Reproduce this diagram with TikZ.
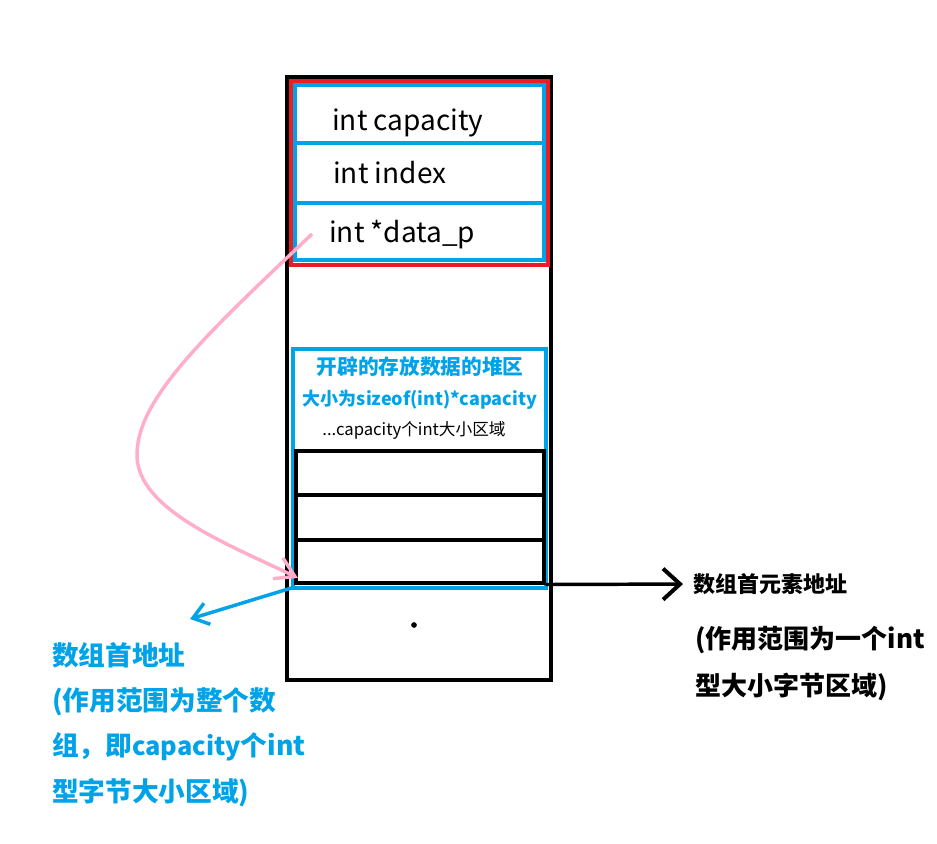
\documentclass[tikz,border=0pt]{standalone}
\usepackage{fontspec}
\setmainfont{Noto Sans CJK SC}
\usetikzlibrary{arrows.meta}

\definecolor{paintblue}{RGB}{0,162,232}
\definecolor{paintred}{RGB}{237,28,36}
\definecolor{paintpink}{RGB}{255,174,201}
\newlength\px
\setlength\px{0.75pt}

\tikzset{
	frame/.style={draw=black,line width=4\px},
	field/.style={draw=paintblue,line width=4\px,inner sep=0,minimum width=248.5\px},
	slot/.style={draw=black,line width=4\px,inner sep=0,minimum width=247.5\px},
	fieldtext/.style={anchor=base west,inner sep=0,font=\fontsize{21}{24}\selectfont},
	heaptext/.style={inner sep=0,text=paintblue,font=\bfseries\fontsize{15.5}{18}\selectfont},
	note/.style={anchor=west,inner sep=0,align=left,font=\bfseries\fontsize{16.5}{35}\selectfont},
	bluenote/.style={anchor=north west,inner sep=0,align=left,text=paintblue,font=\bfseries\fontsize{20}{34}\selectfont},
}

\begin{document}
\begin{tikzpicture}[x=0.75pt,y=-0.75pt]
	\useasboundingbox (0,0) rectangle (937,843);
	% stack frame of the struct
	\draw[frame] (287,77) rectangle (551,679.5);
	\draw[draw=paintred,line width=4\px] (291,81) rectangle (548,264.5);
	\node[field,minimum height=58\px] (capRow) at (419.25,114) {};
	\node[field,minimum height=59.5\px] (idxRow) at (419.25,172.75) {};
	\node[field,minimum height=57\px] (ptrRow) at (419.25,231) {};
	\node[fieldtext] (capText) at (332,130) {int capacity};
	\node[fieldtext] (idxText) at (333,183) {int index};
	\node[fieldtext] (ptrText) at (329,242) {int *data\_p};
	% heap block
	\draw[draw=paintblue,line width=4\px] (293,348.5) rectangle (545.5,587.5);
	\coordinate (heapCorner) at (293,587.5);
	\node[heaptext] (heapTitle) at (420,367) {开辟的存放数据的堆区};
	\node[heaptext,font=\bfseries\fontsize{13.5}{18}\selectfont] (heapSize) at (420,400) {大小为sizeof(int)*capacity};
	\node[inner sep=0,font=\fontsize{12.5}{15}\selectfont] (heapCount) at (414,430) {...capacity个int大小区域};
	\node[slot,minimum height=44\px] (cellA) at (419.75,472.5) {};
	\node[slot,minimum height=45\px] (cellB) at (419.75,517) {};
	\node[slot,minimum height=43\px] (cellC) at (419.75,561) {};
	\node[draw,circle,fill=black,inner sep=0,outer sep=0,minimum size=5\px] (dotMark) at (414,625) {};
	% labels
	\node[note] (elemAddr) at (693,584) {数组首元素地址};
	\node[note,anchor=north west,font=\bfseries\fontsize{19.5}{35}\selectfont] (elemRange) at (695,626) {(作用范围为一个int\\型大小字节区域)};
	\node[bluenote] (arrAddr) at (52,642) {数组首地址\\(作用范围为整个数\\组，即{\fontsize{19}{34}\selectfont capacity}个int\\型字节大小区域)};
	\coordinate (ptrStart) at (312,234);
	\coordinate (ptrEnd) at (298,578);
	\coordinate (blueTip) at (190,619);
	% arrows
	\draw[line width=2.6pt,-{Straight Barb[length=12.75pt,width=23.25pt,line width=3pt]},shorten >=7.5pt] (cellC.south east) -- (elemAddr.west);
	\draw[paintblue,line width=2.6pt,-{Straight Barb[length=11.25pt,width=16.5pt,line width=2.6pt]}] (heapCorner) -- (blueTip);
	\draw[paintpink,line width=2.6pt,-{Straight Barb[length=14.25pt,width=17.25pt,line width=2.6pt]}] (ptrStart) .. controls (200,340) and (137,400) .. (137,455) .. controls (137,510) and (230,545) .. (ptrEnd);
\end{tikzpicture}
\end{document}
